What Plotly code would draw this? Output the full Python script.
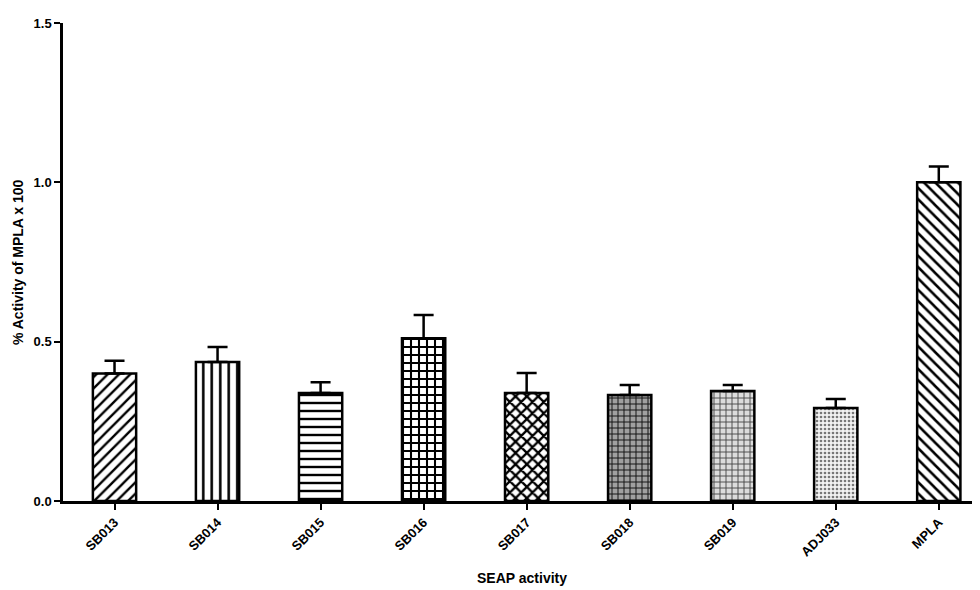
import plotly.graph_objects as go

categories = ["SB013", "SB014", "SB015", "SB016", "SB017", "SB018", "SB019", "ADJ033", "MPLA"]
values = [0.40, 0.436, 0.339, 0.511, 0.339, 0.333, 0.345, 0.292, 1.0]
err_upper = [0.040, 0.047, 0.034, 0.073, 0.063, 0.031, 0.019, 0.028, 0.050]
y_ticks = [0.0, 0.5, 1.0, 1.5]
y_tick_labels = ["0.0", "0.5", "1.0", "1.5"]

shapes = ["/", "|", "-", "+", "x", "+", "+", ".", "\\"]
bgcolors = ["white", "white", "white", "white", "white", "#a0a0a0", "#dcdcdc", "#f2f2f2", "white"]
fgcolors = ["black", "black", "black", "black", "black", "#111111", "#444444", "#777777", "black"]
sizes = [8, 8.5, 8, 8, 8, 6, 6, 4, 8]
solidity = [0.3, 0.3, 0.3, 0.45, 0.5, 0.3, 0.28, 0.35, 0.32]

font_family = "Liberation Sans, Arial, sans-serif"

fig = go.Figure()
fig.add_trace(go.Bar(
    x=categories,
    y=values,
    width=0.42,
    marker=dict(
        color="white",
        line=dict(color="black", width=2.5),
        pattern=dict(shape=shapes, bgcolor=bgcolors, fgcolor=fgcolors,
                     size=sizes, solidity=solidity, fillmode="replace"),
    ),
    error_y=dict(type="data", symmetric=False, array=err_upper,
                 arrayminus=[0] * len(values), color="black", thickness=2.5, width=10),
    showlegend=False,
))

fig.update_layout(
    width=972, height=582,
    margin=dict(l=55, r=0, t=15, b=89, autoexpand=False),
    plot_bgcolor="white", paper_bgcolor="white",
    font=dict(family=font_family, color="black", size=12),
    annotations=[
        dict(text="SEAP activity", xref="paper", yref="paper", x=0.5, y=-0.161,
             xanchor="center", yanchor="middle", showarrow=False,
             font=dict(family=font_family, size=14, weight="bold")),
        dict(text="% Activity of MPLA x 100", xref="paper", yref="paper", x=-0.049, y=0.5,
             xanchor="center", yanchor="middle", showarrow=False, textangle=-90,
             font=dict(family=font_family, size=14, weight="bold")),
    ],
)
fig.update_xaxes(
    range=[-0.5, 8.4], automargin=False,
    showline=True, linecolor="black", linewidth=2.5,
    ticks="outside", ticklen=6, tickwidth=2, tickcolor="black",
    tickangle=-45,
    tickfont=dict(family=font_family, size=13, weight="bold"),
    showgrid=False, zeroline=False,
)
fig.update_yaxes(
    range=[0, 1.5], automargin=False,
    tickvals=y_ticks, ticktext=y_tick_labels,
    showline=True, linecolor="black", linewidth=2.5,
    ticks="outside", ticklen=6, tickwidth=2, tickcolor="black",
    tickfont=dict(family=font_family, size=13, weight="bold"),
    showgrid=False, zeroline=False,
)

fig.write_html("out.html")
